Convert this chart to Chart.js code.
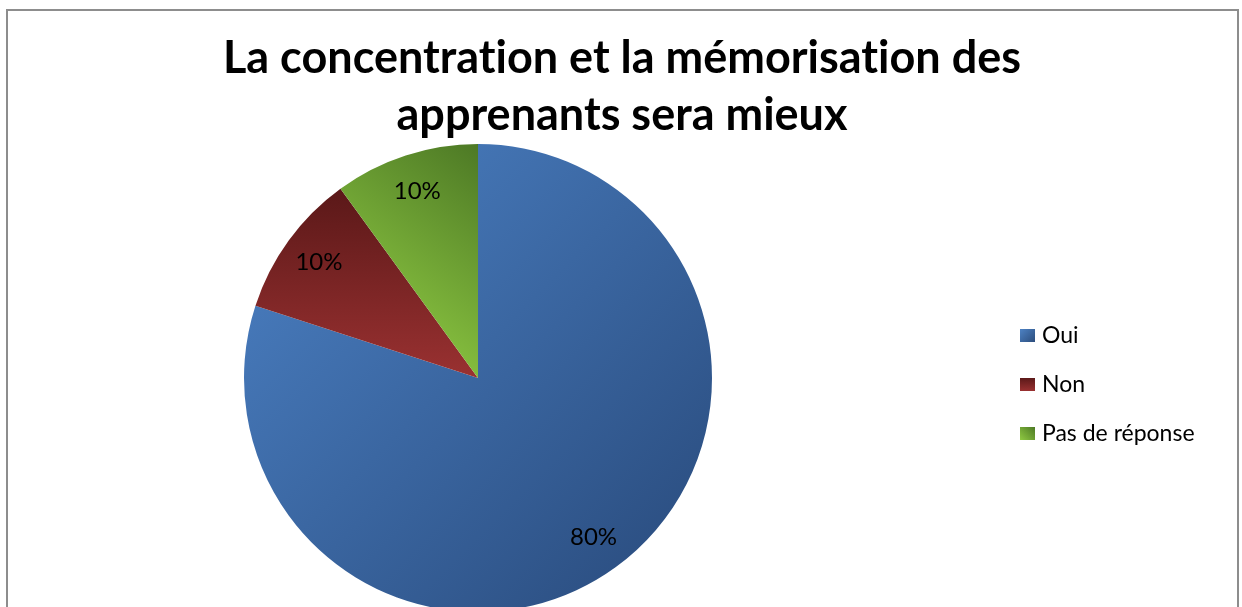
<!DOCTYPE html>
<html>
<head>
<meta charset="utf-8">
<script src="https://cdn.jsdelivr.net/npm/chart.js@4/dist/chart.umd.min.js"></script>
<style>
  html,body{margin:0;padding:0;background:#fff;overflow:hidden;}
  #wrap{position:relative;width:1242px;height:607px;overflow:hidden;background:#fff;}
  #frame{position:absolute;left:6px;top:9px;width:1233px;height:640px;border:2px solid #8d8d8d;box-sizing:border-box;}
  #pie{position:absolute;left:0;top:0;}
  #title{position:absolute;left:0;top:28px;width:1244px;text-align:center;font-family:Lato,"Open Sans",sans-serif;font-weight:700;font-size:45px;line-height:57px;color:#000;font-variant-ligatures:none;font-feature-settings:"liga" 0;}
  #legend{position:absolute;left:1020px;top:320px;font-family:Lato,"Open Sans",sans-serif;font-size:23px;color:#000;}
  .li{height:49px;display:flex;align-items:flex-start;}
  .sw{width:15px;height:13px;margin:9px 7px 0 0;}
</style>
</head>
<body>
<div id="wrap">
  <div id="frame"></div>
  <canvas id="pie" width="1242" height="640"></canvas>
  <div id="title">La concentration et la mémorisation des<br>apprenants sera mieux</div>
  <div id="legend"></div>
</div>
<script>
/* données */
const labels = ['Oui', 'Non', 'Pas de réponse'];
const values = [80, 10, 10];
const legendCss = [
  'linear-gradient(135deg,#4d82c4,#2c4d7c)',
  'linear-gradient(180deg,#5c1919,#9a3131)',
  'linear-gradient(45deg,#8fc942,#4d7925)'
];

/* dégradé par part, comme dans Excel */
function grad(ctx, i){
  const c = ctx.chart.ctx, a = ctx.chart.chartArea;
  if(!a) return '#4a7ebb';
  let g;
  if(i===0){
    g = c.createLinearGradient(a.left, a.top, a.right, a.bottom);
    g.addColorStop(0,'#4c82c6'); g.addColorStop(1,'#28497a');
  }else if(i===1){
    g = c.createLinearGradient(0, a.top+44, 0, a.top+234);
    g.addColorStop(0,'#5a1818'); g.addColorStop(1,'#9a3131');
  }else{
    g = c.createLinearGradient(a.left+98, a.top+180, a.left+234, a.top);
    g.addColorStop(0,'#8fca42'); g.addColorStop(1,'#4d7925');
  }
  return g;
}

const pctLabels = {
  id:'pctLabels',
  afterDatasetsDraw(chart){
    const c = chart.ctx, meta = chart.getDatasetMeta(0);
    const tot = values.reduce((s,v)=>s+v,0);
    c.save();
    c.font = '24px Lato, "Open Sans", sans-serif';
    c.fillStyle = '#000'; c.textAlign = 'center'; c.textBaseline = 'middle';
    meta.data.forEach((arc,i)=>{
      const p = arc.getProps(['x','y','startAngle','endAngle','outerRadius'],true);
      const m = (p.startAngle+p.endAngle)/2, r = p.outerRadius*0.84;
      c.fillText(Math.round(values[i]/tot*100)+'%', p.x+Math.cos(m)*r, p.y+Math.sin(m)*r);
    });
    c.restore();
  }
};

try{
new Chart(document.getElementById('pie'), {
  type:'pie',
  data:{labels, datasets:[{data:values, borderWidth:0,
    backgroundColor: ctx => grad(ctx, ctx.dataIndex)}]},
  options:{
    responsive:false, animation:false, devicePixelRatio:1,
    layout:{padding:{left:244, right:530, top:144, bottom:28}},
    plugins:{legend:{display:false}, title:{display:false}, tooltip:{enabled:false}}
  },
  plugins:[pctLabels]
});

document.getElementById('legend').innerHTML = labels.map((l,i)=>
  `<div class="li"><span class="sw" style="background:${legendCss[i]}"></span><span>${l}</span></div>`).join('');
}catch(e){document.body.insertAdjacentHTML('beforeend','<pre>'+e+'</pre>');}
</script>
</body>
</html>
